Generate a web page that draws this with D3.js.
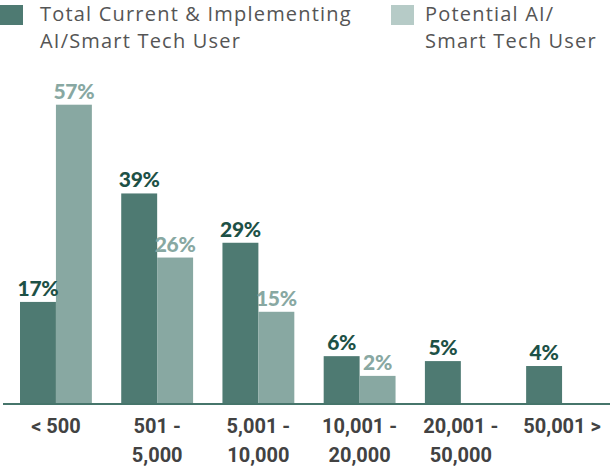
<!DOCTYPE html>
<html>
<head>
<meta charset="utf-8">
<script src="https://cdn.jsdelivr.net/npm/d3@7"></script>
<style>
  html, body { margin: 0; padding: 0; background: #fff; }
  svg { display: block; }
</style>
</head>
<body>
<svg id="chart" width="610" height="468"></svg>
<script>
// Company size bands (number of employees)
const categories = [["< 500"], ["501 -", "5,000"], ["5,001 -", "10,000"], ["10,001 -", "20,000"], ["20,001 -", "50,000"], ["50,001 >"]];
const seriesNames = [["Total Current & Implementing", "AI/Smart Tech User"], ["Potential AI/", "Smart Tech User"]];
const currentUsers = [17, 39, 29, 6, 5, 4];
const potentialUsers = [57, 26, 15, 2, null, null];

const colors = {
  current: "#4e7a72",
  potential: "#88a8a2",
  currentLabel: "#1d5146",
  potentialLabel: "#88a8a2",
  potentialSwatch: "#b6cbc7",
  legendText: "#555555",
  axisText: "#424242",
  axisLine: "#46756b"
};

const svg = d3.select("#chart");
const baseline = 403;

const x = d3.scaleBand()
  .domain(d3.range(categories.length))
  .range([20, 598])
  .paddingInner(0.29)
  .paddingOuter(0);

const sub = d3.scaleBand()
  .domain(["current", "potential"])
  .range([0, x.bandwidth()]);

const y = d3.scaleLinear()
  .domain([-3.5, 57])
  .range([baseline, 104.7]);

const rows = categories.map((c, i) => ({
  i,
  values: [
    { key: "current", v: currentUsers[i] },
    { key: "potential", v: potentialUsers[i] }
  ].filter(d => d.v != null)
}));

const groups = svg.append("g")
  .selectAll("g")
  .data(rows)
  .join("g")
  .attr("transform", d => `translate(${x(d.i)},0)`);

groups.selectAll("rect")
  .data(d => d.values)
  .join("rect")
  .attr("x", d => sub(d.key))
  .attr("width", sub.bandwidth())
  .attr("y", d => y(d.v))
  .attr("height", d => baseline - y(d.v))
  .attr("fill", d => colors[d.key]);

groups.selectAll("text.val")
  .data(d => d.values)
  .join("text")
  .attr("class", "val")
  .attr("x", d => sub(d.key) + sub.bandwidth() / 2)
  .attr("y", d => y(d.v) - 6)
  .attr("text-anchor", "middle")
  .style("font-family", "Lato, 'Open Sans', sans-serif")
  .style("font-weight", 900)
  .style("font-size", "21px")
  .style("letter-spacing", "-0.3px")
  .attr("fill", d => d.key === "current" ? colors.currentLabel : colors.potentialLabel)
  .text(d => d.v + "%");

// Baseline
svg.append("line")
  .attr("x1", 3).attr("x2", 610)
  .attr("y1", baseline + 1).attr("y2", baseline + 1)
  .attr("stroke", colors.axisLine)
  .attr("stroke-width", 2);

// Category labels
const xAxis = d3.axisBottom(x).tickSize(0).tickFormat("");
const axisG = svg.append("g")
  .attr("transform", `translate(0,${baseline})`)
  .call(xAxis);
axisG.select(".domain").remove();
axisG.selectAll(".tick").each(function (d) {
  const t = d3.select(this).append("text")
    .attr("text-anchor", "middle")
    .attr("fill", colors.axisText)
    .style("font-family", "Roboto, sans-serif")
    .style("font-weight", 700)
    .style("font-size", "20px");
  categories[d].forEach((line, k) => {
    t.append("tspan").attr("x", 0).attr("y", 30 + k * 29).text(line);
  });
});

// Legend
const legend = [
  { x: 0, key: "current", fill: colors.current, names: seriesNames[0], tx: 40 },
  { x: 391, key: "potential", fill: colors.potentialSwatch, names: seriesNames[1], tx: 425 }
];
const lg = svg.append("g").selectAll("g").data(legend).join("g");
lg.append("rect")
  .attr("x", d => d.x).attr("y", 5)
  .attr("width", 23).attr("height", 20)
  .attr("fill", d => d.fill);
lg.append("text")
  .attr("fill", colors.legendText)
  .style("font-family", "'Open Sans', sans-serif")
  .style("font-size", "20px")
  .style("letter-spacing", "1.2px")
  .each(function (d) {
    d.names.forEach((line, k) => {
      d3.select(this).append("tspan").attr("x", d.tx).attr("y", 21 + k * 27).text(line);
    });
  });
</script>
</body>
</html>
